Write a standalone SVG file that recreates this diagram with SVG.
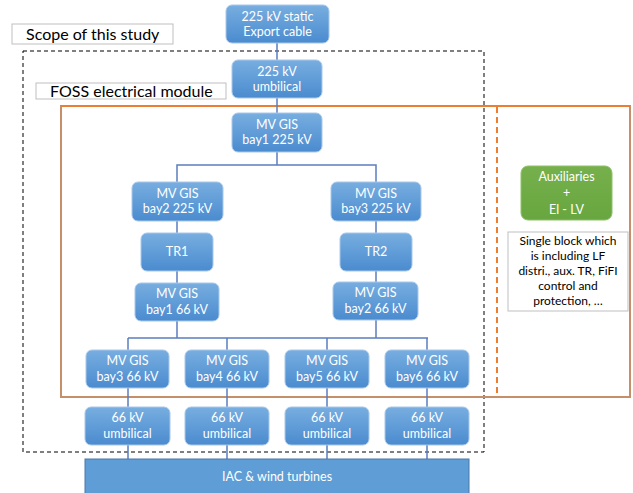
<svg xmlns="http://www.w3.org/2000/svg" width="633" height="493" viewBox="0 0 633 493">
<defs>
<linearGradient id="gb" x1="0" y1="0" x2="0" y2="1">
<stop offset="0" stop-color="#78AEE0"/>
<stop offset="1" stop-color="#4A8BCF"/>
</linearGradient>
<linearGradient id="gg" x1="0" y1="0" x2="0" y2="1">
<stop offset="0" stop-color="#76B04C"/>
<stop offset="1" stop-color="#68A63F"/>
</linearGradient>
<style>
.b{fill:url(#gb);stroke:#A9C8EA;stroke-width:1}
.t{font-family:Lato,"Open Sans",sans-serif;font-size:12.5px;fill:#fff;text-anchor:middle}
.k{font-family:Lato,"Open Sans",sans-serif;fill:#000}
.c{stroke:#5A7DBE;stroke-width:1.5;fill:none}
</style>
</defs>
<rect width="633" height="493" fill="#fff"/>
<g id="scope">
<rect x="23" y="51" width="461" height="401" fill="none" stroke="#000" stroke-width="1" stroke-dasharray="4,3"/>
<rect x="12" y="24" width="161" height="20" fill="#fff" stroke="#BFBFBF" stroke-width="1"/>
<text class="k" x="26" y="40" font-size="16">Scope of this study</text>
</g>
<g id="foss">
<rect x="61" y="106" width="569" height="291" fill="none" stroke="#C59069" stroke-width="2"/>
<line x1="61" y1="106" x2="630" y2="106" stroke="#ED7D31" stroke-width="2"/>
<line x1="497" y1="107" x2="497" y2="396" stroke="#ED7D31" stroke-width="2" stroke-dasharray="6,4"/>
<rect x="36" y="83" width="190" height="16" fill="#fff" stroke="#BFBFBF" stroke-width="1"/>
<text class="k" x="50" y="97" font-size="16">FOSS electrical module</text>
</g>
<g id="connectors">
<line class="c" x1="277" y1="43" x2="277" y2="113"/>
<line class="c" x1="277" y1="152" x2="277" y2="165"/>
<polyline class="c" points="177,182 177,165 376,165 376,182"/>
<line class="c" x1="177" y1="221" x2="177" y2="283"/>
<line class="c" x1="376" y1="221" x2="376" y2="283"/>
<line class="c" x1="177" y1="321" x2="177" y2="338"/>
<line class="c" x1="376" y1="320" x2="376" y2="338"/>
<line class="c" x1="128" y1="338" x2="428" y2="338"/>
<line class="c" x1="128" y1="338" x2="128" y2="459"/>
<line class="c" x1="227" y1="338" x2="227" y2="459"/>
<line class="c" x1="327" y1="338" x2="327" y2="459"/>
<line class="c" x1="427" y1="338" x2="427" y2="459"/>
</g>
<g id="export">
<rect class="b" x="226" y="5" width="103" height="38" rx="6"/>
<text class="t" x="277.5" y="21">225 kV static</text>
<text class="t" x="277.5" y="36">Export cable</text>
</g>
<g id="umb225">
<rect class="b" x="232" y="60" width="90" height="38" rx="6"/>
<text class="t" x="277" y="76">225 kV</text>
<text class="t" x="277" y="91">umbilical</text>
</g>
<g id="bay1_225">
<rect class="b" x="232" y="113" width="90" height="39" rx="6"/>
<text class="t" x="277" y="129">MV GIS</text>
<text class="t" x="277" y="144">bay1 225 kV</text>
</g>
<g id="bay2_225">
<rect class="b" x="132" y="182" width="91" height="39" rx="6"/>
<text class="t" x="177.5" y="198">MV GIS</text>
<text class="t" x="177.5" y="213">bay2 225 kV</text>
</g>
<g id="bay3_225">
<rect class="b" x="331" y="182" width="90" height="39" rx="6"/>
<text class="t" x="376" y="198">MV GIS</text>
<text class="t" x="376" y="213">bay3 225 kV</text>
</g>
<g id="tr1">
<rect class="b" x="141" y="233" width="72" height="38" rx="6"/>
<text class="t" x="177" y="256">TR1</text>
</g>
<g id="tr2">
<rect class="b" x="340" y="233" width="72" height="38" rx="6"/>
<text class="t" x="376" y="256">TR2</text>
</g>
<g id="bay1_66">
<rect class="b" x="135" y="283" width="84" height="38" rx="6"/>
<text class="t" x="177" y="298">MV GIS</text>
<text class="t" x="177" y="314">bay1 66 kV</text>
</g>
<g id="bay2_66">
<rect class="b" x="333" y="282" width="85" height="38" rx="6"/>
<text class="t" x="375.5" y="297">MV GIS</text>
<text class="t" x="375.5" y="313">bay2 66 kV</text>
</g>
<g id="bay3_66">
<rect class="b" x="86" y="350" width="83" height="38" rx="6"/>
<text class="t" x="127.5" y="365">MV GIS</text>
<text class="t" x="127.5" y="381">bay3 66 kV</text>
</g>
<g id="bay4_66">
<rect class="b" x="185" y="350" width="84" height="38" rx="6"/>
<text class="t" x="227" y="365">MV GIS</text>
<text class="t" x="227" y="381">bay4 66 kV</text>
</g>
<g id="bay5_66">
<rect class="b" x="285" y="350" width="84" height="38" rx="6"/>
<text class="t" x="327" y="365">MV GIS</text>
<text class="t" x="327" y="381">bay5 66 kV</text>
</g>
<g id="bay6_66">
<rect class="b" x="385" y="350" width="84" height="38" rx="6"/>
<text class="t" x="427" y="365">MV GIS</text>
<text class="t" x="427" y="381">bay6 66 kV</text>
</g>
<g id="umb66_1">
<rect class="b" x="85" y="407" width="85" height="38" rx="6"/>
<text class="t" x="127.5" y="422">66 kV</text>
<text class="t" x="127.5" y="438">umbilical</text>
</g>
<g id="umb66_2">
<rect class="b" x="185" y="407" width="84" height="38" rx="6"/>
<text class="t" x="227" y="422">66 kV</text>
<text class="t" x="227" y="438">umbilical</text>
</g>
<g id="umb66_3">
<rect class="b" x="285" y="407" width="84" height="38" rx="6"/>
<text class="t" x="327" y="422">66 kV</text>
<text class="t" x="327" y="438">umbilical</text>
</g>
<g id="umb66_4">
<rect class="b" x="385" y="407" width="84" height="38" rx="6"/>
<text class="t" x="427" y="422">66 kV</text>
<text class="t" x="427" y="438">umbilical</text>
</g>
<g id="iac">
<rect x="85" y="459" width="384" height="40" fill="#5E9DD6" stroke="#4A78A8" stroke-width="1"/>
<text class="t" x="277" y="481">IAC &amp; wind turbines</text>
</g>
<g id="aux">
<rect x="521" y="166" width="91" height="54" rx="7" fill="url(#gg)" stroke="#8FC06A" stroke-width="1"/>
<text class="t" x="566.5" y="181">Auxiliaries</text>
<text class="t" x="566.5" y="197">+</text>
<text class="t" x="566.5" y="214">El - LV</text>
</g>
<g id="note">
<rect x="508" y="232" width="120" height="79" fill="#fff" stroke="#BFBFBF" stroke-width="1"/>
<text class="k" font-size="12" text-anchor="middle" x="568" y="245">Single block which</text>
<text class="k" font-size="12" text-anchor="middle" x="568" y="260">is including LF</text>
<text class="k" font-size="12" text-anchor="middle" x="568" y="275">distri., aux. TR, FiFI</text>
<text class="k" font-size="12" text-anchor="middle" x="568" y="290">control and</text>
<text class="k" font-size="12" text-anchor="middle" x="568" y="305">protection, …</text>
</g>
</svg>
